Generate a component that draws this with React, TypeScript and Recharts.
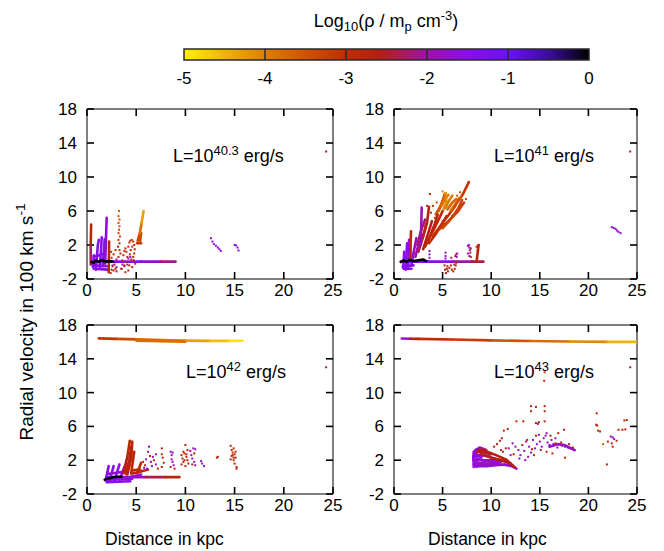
import React from 'react';
import { ScatterChart, Scatter, XAxis, YAxis, ComposedChart, ReferenceArea, ReferenceLine } from 'recharts';

type Pt = [number, number, number];
type Streak = { d: number; pts: [number, number][] };

const xTicks = [0, 5, 10, 15, 20, 25];
const yTicks = [-2, 2, 6, 10, 14, 18];
const cbTicks = [-5, -4, -3, -2, -1, 0];
const luminosityExps = ['40.3', '41', '42', '43'];

// ---------- Panel 1: L = 10^40.3 ----------
const tlStreaks: Streak[] = [
  { d: -1.3, pts: [[0.5, 0.05], [3, 0.05]] },
  { d: -1.5, pts: [[3, 0.05], [5.5, 0.05]] },
  { d: -1.8, pts: [[5.5, 0.05], [7.5, 0.05]] },
  { d: -2.1, pts: [[7.5, 0.05], [9.0, 0.05]] },
  { d: -1.5, pts: [[0.6, -0.4], [2.0, -0.5]] },
  { d: -1.5, pts: [[0.7, -0.8], [2.1, -0.9]] },
  { d: -1.5, pts: [[0.7, 0.6], [1.8, 1.0]] },
  { d: -1.4, pts: [[0.6, -0.6], [0.7, 0.8]] },
  { d: -1.4, pts: [[0.9, -0.9], [1.1, 2.0], [1.2, 2.6]] },
  { d: -1.5, pts: [[1.3, -0.8], [1.5, 2.9]] },
  { d: -1.5, pts: [[1.6, -0.5], [1.8, 2.7]] },
  { d: -1.6, pts: [[1.85, -0.2], [1.95, 3.5], [2.0, 5.2]] },
  { d: -2.3, pts: [[0.38, -0.3], [0.38, 2.0]] },
  { d: -2.8, pts: [[0.38, 2.0], [0.42, 4.4]] },
  { d: -2.8, pts: [[2.2, -1.2], [2.25, 2.4]] },
  { d: -3.1, pts: [[5.1, 2.2], [5.5, 2.2]] },
  { d: -3.3, pts: [[5.15, 2.5], [5.35, 3.3]] },
  { d: -3.4, pts: [[5.4, 2.4], [5.5, 3.4]] },
  { d: -3.8, pts: [[5.35, 3.3], [5.55, 4.6]] },
  { d: -4.3, pts: [[5.55, 4.6], [5.75, 6.0]] },
  { d: 0, pts: [[0.45, 0], [0.7, -0.1], [0.9, 0.2], [1.2, 0], [1.5, 0.25], [1.8, 0.05], [2.2, 0.1], [2.6, 0.05]] },
];
const tlDots: Pt[] = [
  [3.25, 6.0, -3.6], [3.2, 5.4, -3.5], [3.3, 5.0, -3.5], [3.2, 4.6, -3.4], [3.3, 4.2, -3.4], [3.25, 3.8, -3.3],
  [3.2, 3.4, -3.3], [3.35, 3.0, -3.2], [3.2, 2.6, -3.2], [3.3, 2.2, -3.0], [3.15, 1.8, -3.0], [3.3, 1.4, -2.9],
  [3.4, 1.0, -2.9], [3.2, 0.6, -2.8],
  [2.4, -1.3, -2.8], [2.5, -0.9, -2.7], [2.6, -0.5, -2.8], [2.7, -1.0, -2.8], [2.8, -0.3, -2.7], [2.9, -0.8, -2.8],
  [3.0, 0.3, -2.8], [2.5, 0.5, -2.9], [2.7, 0.9, -2.9], [2.9, 1.4, -3.0], [3.0, -1.1, -2.7], [2.45, 1.2, -2.9],
  [2.6, -0.4, -1.8], [3.0, -0.6, -1.7], [3.5, -0.8, -1.8], [3.8, -0.5, -1.7], [4.1, -0.3, -1.8], [3.6, -0.3, -1.9],
  [3.6, 0.2, -2.9], [3.7, 0.8, -2.9], [3.8, 1.3, -3.0], [3.9, 1.6, -3.0], [4.0, 1.2, -2.9], [4.1, 0.6, -2.8],
  [4.0, 0.0, -2.8], [3.8, -0.4, -2.8], [4.2, 1.8, -3.0], [4.3, 2.3, -3.1], [4.4, 2.5, -3.1], [4.55, 2.6, -3.1],
  [4.7, 2.4, -3.0], [4.8, 2.0, -3.0], [4.85, 1.5, -2.9], [4.8, 1.0, -2.9], [4.7, 0.6, -2.8], [4.5, 0.3, -2.8],
  [4.35, 0.9, -2.9], [4.45, 1.4, -3.0], [4.6, 1.8, -3.0], [4.75, 0.2, -2.8], [4.9, -0.2, -2.8], [3.5, -0.8, -2.8],
  [4.2, -1.0, -2.8], [4.6, -0.6, -2.8], [4.2, 0.4, -1.9], [4.4, 0.6, -2.0], [3.9, -1.2, -2.8], [4.3, -0.4, -2.9],
  [12.6, 2.8, -1.7], [12.75, 2.4, -1.6], [12.9, 2.1, -1.7], [13.1, 1.9, -1.6], [13.3, 1.7, -1.7], [13.45, 1.5, -1.6],
  [13.6, 1.3, -1.7], [15.0, 2.0, -1.7], [15.15, 1.95, -1.6], [15.3, 1.7, -1.7], [15.4, 1.35, -1.7],
  [24.3, 13.0, -2.6],
];

// ---------- Panel 2: L = 10^41 ----------
const trStreaks: Streak[] = [
  { d: -1.3, pts: [[0.7, 0.05], [3.5, 0.05]] },
  { d: -1.6, pts: [[3.5, 0.05], [6, 0.05]] },
  { d: -2.0, pts: [[6, 0.05], [8, 0.05]] },
  { d: -2.4, pts: [[8, 0.05], [9.2, 0.05]] },
  { d: -1.4, pts: [[0.95, -0.7], [1.05, 1.2]] },
  { d: -1.4, pts: [[1.2, -0.9], [1.35, 2.2]] },
  { d: -1.5, pts: [[1.45, -0.6], [1.55, 2.6]] },
  { d: -1.5, pts: [[0.9, -0.5], [2.0, -0.4]] },
  { d: -1.5, pts: [[1.0, -0.8], [1.8, -0.8]] },
  { d: -1.5, pts: [[1.8, -0.3], [2.0, 1.0]] },
  { d: -2.5, pts: [[1.7, 0.5], [1.7, 2.0]] },
  { d: -2.9, pts: [[1.7, 2.0], [1.75, 3.6]] },
  { d: -1.8, pts: [[2.2, 0.6], [2.5, 2.0], [2.8, 3.2]] },
  { d: -2.2, pts: [[2.4, 2.0], [2.8, 3.8], [3.2, 5.0]] },
  { d: -1.9, pts: [[2.0, 1.0], [2.3, 2.8]] },
  { d: -2.4, pts: [[2.5, 1.2], [3.0, 3.0], [3.3, 4.5]] },
  { d: -1.9, pts: [[2.75, 2.0], [2.85, 6.4]] },
  { d: -2.6, pts: [[3.0, 1.5], [3.5, 3.3], [3.9, 4.8]] },
  { d: -2.8, pts: [[3.2, 1.8], [3.7, 3.0], [4.2, 4.5], [4.5, 5.6]] },
  { d: -2.9, pts: [[3.4, 2.3], [4.0, 3.6], [4.6, 5.0], [5.0, 6.0]] },
  { d: -2.7, pts: [[3.0, 3.0], [3.4, 4.6], [3.6, 6.5]] },
  { d: -3.0, pts: [[4.0, 3.0], [4.8, 4.3], [5.6, 5.5], [6.3, 6.6]] },
  { d: -3.0, pts: [[3.6, 2.2], [4.3, 3.3], [5.0, 4.6], [5.4, 5.4]] },
  { d: -3.2, pts: [[4.6, 3.8], [5.6, 4.8], [6.6, 6.0], [7.2, 7.0]] },
  { d: -3.3, pts: [[5.0, 4.0], [5.8, 5.0], [6.6, 6.3], [7.0, 7.3]] },
  { d: -3.4, pts: [[4.3, 5.6], [4.8, 6.6], [5.2, 7.6]] },
  { d: -3.6, pts: [[4.6, 6.0], [5.0, 7.2], [5.2, 8.0]] },
  { d: -3.9, pts: [[4.9, 6.6], [5.3, 7.5], [5.6, 7.9]] },
  { d: -4.1, pts: [[5.1, 6.2], [5.4, 7.0], [5.3, 8.1]] },
  { d: -4.0, pts: [[5.3, 6.4], [5.7, 7.3], [6.0, 7.8]] },
  { d: -3.7, pts: [[5.5, 6.2], [6.0, 7.0], [6.4, 7.4]] },
  { d: -3.8, pts: [[5.8, 6.0], [6.3, 6.8], [6.7, 7.5]] },
  { d: -3.5, pts: [[6.2, 6.5], [6.8, 7.5], [7.1, 8.0]] },
  { d: -3.1, pts: [[7.1, 8.0], [7.7, 9.4]] },
  { d: -2.8, pts: [[8.5, 0.1], [8.6, 1.0], [8.7, 2.0]] },
  { d: 0, pts: [[0.7, 0], [1.0, 0.2], [1.3, 0], [1.6, 0.25], [2.0, 0.1], [2.5, 0.2], [3.0, 0.3], [3.3, 0.1]] },
];
const trDots: Pt[] = [
  [3.7, 8.0, -3.0], [3.4, 6.6, -2.9], [3.6, 6.4, -2.8], [4.0, 6.6, -3.0], [3.8, 5.8, -3.0], [4.2, 5.2, -3.1],
  [5.0, 8.3, -4.0], [5.3, 8.1, -4.2], [6.5, 7.8, -3.5], [6.8, 8.2, -3.4], [7.0, 7.8, -3.3], [7.3, 8.5, -3.1],
  [7.5, 8.9, -3.0], [7.7, 9.4, -3.0], [7.4, 7.4, -3.2], [6.0, 5.4, -3.3], [5.0, 4.8, -3.1], [4.4, 7.0, -3.6],
  [5.2, -0.4, -2.8], [5.25, -0.9, -2.8], [5.35, -1.3, -2.8], [5.55, -1.1, -2.8], [5.7, -0.7, -2.8], [5.85, -0.4, -2.8],
  [5.95, -0.9, -2.8], [6.1, -1.1, -2.8], [6.25, -0.8, -2.8], [6.35, -0.4, -2.8], [6.4, -0.1, -2.8], [5.5, -0.5, -2.8],
  [5.9, 0.5, -2.8], [6.3, 0.7, -2.8], [6.4, 0.9, -2.8], [5.45, -0.8, -2.9], [6.2, -0.3, -2.9],
  [5.3, 1.1, -1.8], [5.3, 0.7, -1.8], [5.3, 0.4, -1.7], [3.65, 0.5, -1.8], [3.65, 0.9, -1.7], [3.65, 1.3, -1.8],
  [6.45, 0.6, -1.9], [6.5, 1.0, -1.9],
  [7.6, 1.9, -1.8], [7.7, 2.0, -1.8], [7.75, 1.7, -1.9], [7.8, 1.4, -1.9], [7.6, 1.0, -1.8], [7.75, 0.7, -1.9],
  [7.9, 1.6, -2.8], [7.85, 1.1, -2.8], [7.9, 0.6, -2.8], [8.5, 1.8, -2.8], [8.7, 2.0, -2.7], [8.6, 1.4, -2.8],
  [22.4, 4.1, -1.7], [22.6, 4.0, -1.7], [22.8, 3.9, -1.7], [22.95, 3.7, -1.7], [23.1, 3.55, -1.7], [23.3, 3.4, -1.7],
  [24.3, 13.0, -2.6],
];

// ---------- Panel 3: L = 10^42 ----------
const blStreaks: Streak[] = [
  { d: -3.1, pts: [[1.2, 16.42], [3, 16.36]] },
  { d: -3.4, pts: [[3, 16.36], [5, 16.3]] },
  { d: -3.7, pts: [[5, 16.3], [7.5, 16.22]] },
  { d: -4.0, pts: [[7.5, 16.22], [10, 16.15]] },
  { d: -4.3, pts: [[10, 16.15], [12.5, 16.12]] },
  { d: -4.6, pts: [[12.5, 16.12], [14.5, 16.12]] },
  { d: -4.9, pts: [[14.5, 16.12], [15.8, 16.14]] },
  { d: -3.8, pts: [[5, 16.15], [10, 16.02]] },
  { d: -1.5, pts: [[2.0, 0], [4, 0]] },
  { d: -1.9, pts: [[4, 0], [6, 0]] },
  { d: -2.4, pts: [[6, 0], [8, 0]] },
  { d: -2.8, pts: [[8, 0], [9.4, 0]] },
  { d: -1.5, pts: [[2.0, -0.6], [4.4, -0.5]] },
  { d: -1.5, pts: [[2.1, -0.3], [4.6, -0.2]] },
  { d: -1.4, pts: [[1.9, -0.4], [2.2, 1.3]] },
  { d: -1.5, pts: [[2.3, -0.5], [2.7, 1.3]] },
  { d: -1.5, pts: [[2.8, -0.4], [3.3, 1.5]] },
  { d: -1.6, pts: [[3.3, -0.4], [3.8, 1.2]] },
  { d: -1.7, pts: [[3.6, -0.2], [5.5, 0.3]] },
  { d: -1.6, pts: [[2.2, 0.4], [3.6, 0.6]] },
  { d: -2.6, pts: [[3.7, 0.5], [4.1, 2.4]] },
  { d: -2.9, pts: [[4.1, 2.4], [4.35, 4.3]] },
  { d: -2.8, pts: [[4.1, 0.3], [4.5, 2.2], [4.6, 4.2]] },
  { d: -2.7, pts: [[3.9, 0.4], [4.3, 2.0], [4.5, 3.6]] },
  { d: -2.9, pts: [[4.5, 0.5], [4.8, 3.0]] },
  { d: -2.8, pts: [[4.5, 0.4], [5.3, 0.6], [6.2, 0.9]] },
  { d: -2.8, pts: [[4.6, 0.8], [5.4, 0.9]] },
  { d: -2.9, pts: [[5.1, 0.5], [5.5, 1.7]] },
  { d: 0, pts: [[1.8, -0.3], [2.2, -0.15], [2.6, -0.05], [3.0, 0.05], [3.5, 0.05]] },
];
const blDots: Pt[] = [
  [6.3, 3.6, -1.8], [6.2, 3.0, -1.9], [6.4, 2.5, -2.8], [6.0, 2.1, -1.8], [6.5, 1.8, -1.9], [5.9, 1.4, -2.8],
  [6.6, 1.3, -1.8], [6.8, 2.0, -2.8], [7.0, 2.7, -1.9], [7.0, 1.5, -1.8], [7.2, 1.0, -2.7], [6.1, 1.0, -1.8],
  [5.7, 1.8, -2.8], [5.8, 1.1, -1.8], [6.7, 2.4, -1.8],
  [7.6, 3.4, -2.8], [7.6, 2.7, -2.9], [7.7, 2.3, -2.8], [7.8, 1.7, -2.8], [7.6, 1.2, -2.8],
  [8.5, 3.0, -1.8], [8.6, 2.6, -1.9], [8.6, 2.1, -1.8], [8.7, 1.8, -1.9], [8.8, 1.4, -1.8], [8.5, 1.2, -2.7],
  [8.7, 2.9, -1.9], [8.9, 1.0, -2.8],
  [9.6, 2.6, -2.9], [9.7, 2.2, -2.8], [9.8, 3.0, -2.8], [9.9, 2.8, -3.0], [10.0, 3.8, -2.9], [10.1, 2.4, -2.8],
  [10.2, 2.0, -2.9], [10.3, 1.6, -2.8], [9.8, 1.8, -2.8], [9.6, 1.5, -2.7], [10.0, 1.3, -2.8], [10.2, 3.2, -2.9],
  [9.9, 2.0, -3.0], [10.1, 2.7, -2.9],
  [10.5, 3.1, -1.8], [10.6, 2.6, -1.8], [10.7, 2.2, -1.9], [10.8, 3.4, -1.8], [10.9, 1.8, -1.8], [11.0, 1.4, -1.9],
  [10.7, 1.5, -2.8], [10.9, 2.8, -2.8], [11.0, 3.3, -1.8],
  [11.6, 1.9, -1.8], [11.7, 1.6, -1.9], [11.9, 1.3, -1.8],
  [13.2, 2.3, -2.8], [13.3, 2.4, -2.8],
  [14.6, 3.7, -2.9], [14.7, 3.2, -2.8], [14.8, 2.9, -3.0], [14.9, 3.4, -2.9], [15.0, 2.7, -2.8], [14.7, 2.5, -2.9],
  [15.1, 2.3, -2.8], [14.9, 2.0, -3.0], [15.0, 1.6, -2.8], [15.2, 1.2, -2.9], [15.2, 1.0, -2.8], [14.6, 2.1, -2.9],
  [14.8, 2.6, -3.0], [15.1, 3.0, -2.9], [14.9, 2.3, -2.8],
  [24.3, 13.0, -2.6],
];

// ---------- Panel 4: L = 10^43 ----------
const brStreaks: Streak[] = [
  { d: -1.8, pts: [[0.8, 16.4], [1.7, 16.38]] },
  { d: -2.6, pts: [[1.7, 16.38], [2.5, 16.36]] },
  { d: -3.0, pts: [[2.5, 16.36], [6, 16.28]] },
  { d: -3.2, pts: [[6, 16.28], [10, 16.18]] },
  { d: -3.5, pts: [[10, 16.18], [14, 16.1]] },
  { d: -3.8, pts: [[14, 16.1], [18, 16.05]] },
  { d: -4.1, pts: [[18, 16.05], [22, 16.0]] },
  { d: -4.5, pts: [[22, 16.0], [25, 16.0]] },
  { d: -1.7, pts: [[8.2, 1.2], [8.2, 3.0]] },
  { d: -1.6, pts: [[8.5, 1.2], [8.5, 3.3]] },
  { d: -1.6, pts: [[8.3, 1.4], [8.15, 2.3], [8.3, 3.1], [8.8, 3.5], [9.3, 3.3]] },
  { d: -1.7, pts: [[8.4, 1.3], [9.5, 1.3], [10.5, 1.4], [11.4, 1.5], [12.1, 1.3], [12.6, 1.0]] },
  { d: -1.7, pts: [[8.2, 1.5], [9.5, 1.5], [10.8, 1.5], [11.8, 1.4]] },
  { d: -1.7, pts: [[8.2, 2.0], [9.5, 2.0], [10.6, 2.0]] },
  { d: -1.7, pts: [[8.5, 2.2], [9.3, 1.9], [10.2, 1.8], [11.0, 1.8]] },
  { d: -1.8, pts: [[8.5, 1.7], [9.5, 1.6], [10.8, 1.6]] },
  { d: -1.6, pts: [[8.2, 2.5], [9.0, 2.6], [9.8, 2.5]] },
  { d: -1.6, pts: [[8.4, 2.7], [9.0, 2.3]] },
  { d: -2.5, pts: [[8.5, 3.0], [9.3, 2.9], [10.0, 2.7]] },
  { d: -2.4, pts: [[9.0, 3.3], [9.5, 3.2]] },
  { d: -2.6, pts: [[8.7, 3.2], [9.6, 3.0], [10.5, 2.6], [11.5, 2.1], [12.4, 1.2]] },
  { d: -2.5, pts: [[8.9, 2.7], [9.7, 2.4], [10.6, 2.1], [11.8, 1.8]] },
  { d: -2.6, pts: [[10.0, 2.3], [11.0, 2.0], [12.0, 1.6]] },
  { d: -1.8, pts: [[16.0, 3.6], [16.8, 3.9], [17.5, 3.8], [18.6, 3.2]] },
];
const brDots: Pt[] = [
  [10.3, 3.6, -2.7], [10.6, 3.9, -2.8], [10.9, 4.3, -2.7], [11.1, 4.6, -2.8], [11.3, 5.5, -2.9], [11.7, 5.7, -2.8],
  [11.0, 3.2, -2.7], [11.5, 3.4, -2.8], [11.2, 3.0, -2.6],
  [12.6, 6.6, -2.8], [13.3, 6.6, -2.9], [14.1, 8.4, -2.9], [14.6, 8.3, -2.8], [14.1, 7.8, -2.8], [15.5, 8.4, -2.9],
  [15.5, 7.8, -2.8], [14.6, 6.4, -2.8], [14.8, 6.3, -1.8], [14.9, 6.5, -2.8], [15.5, 6.6, -2.8], [15.5, 12.4, -3.3],
  [15.45, 11.4, -3.0],
  [11.8, 3.4, -1.8], [12.2, 4.0, -1.8], [12.5, 3.6, -1.8], [12.8, 3.2, -1.7], [13.0, 2.6, -1.8], [13.4, 3.1, -1.8],
  [13.6, 4.2, -1.7], [13.9, 3.6, -1.8], [14.1, 2.9, -1.7], [14.3, 4.4, -1.8], [14.5, 3.4, -1.8], [14.7, 3.9, -1.7],
  [14.9, 5.0, -1.8], [15.0, 4.2, -1.8], [15.2, 3.6, -1.7], [15.4, 4.6, -1.8], [15.6, 4.9, -1.8], [15.7, 5.2, -1.7],
  [15.8, 4.1, -1.8], [16.0, 3.8, -1.8], [16.2, 4.4, -1.7], [16.4, 3.9, -1.8], [16.6, 4.6, -1.8], [16.8, 3.5, -1.7],
  [17.0, 3.9, -1.8], [17.3, 3.7, -1.7], [17.6, 3.6, -1.8], [17.9, 3.5, -1.8], [18.2, 3.4, -1.7], [18.5, 3.2, -1.8],
  [13.8, 2.4, -1.8], [12.9, 2.2, -1.7], [12.0, 2.6, -1.8], [13.5, 2.0, -1.8],
  [13.2, 3.8, -2.8], [13.7, 4.4, -2.8], [14.2, 3.3, -2.7], [14.6, 4.9, -2.8], [15.1, 3.2, -2.8], [15.7, 3.0, -2.8],
  [16.1, 4.9, -2.7], [16.6, 4.0, -2.8], [16.9, 5.2, -2.8], [17.2, 4.1, -2.8], [17.6, 2.3, -2.9], [17.5, 5.6, -2.8],
  [18.0, 3.9, -2.7], [18.4, 3.5, -2.8], [12.3, 2.7, -2.7], [14.4, 2.6, -2.8], [16.3, 2.8, -2.8],
  [20.85, 7.55, -2.8], [20.8, 6.2, -2.8], [20.9, 6.1, -2.7], [21.0, 5.5, -2.8], [21.2, 5.4, -2.8], [22.3, 4.8, -1.8],
  [22.5, 4.7, -1.8], [22.65, 4.5, -1.8], [22.0, 4.2, -2.8], [22.4, 4.0, -2.8], [22.5, 3.6, -2.8], [21.5, 3.9, -3.8],
  [21.9, 1.5, -2.8], [23.1, 5.6, -2.8], [23.5, 5.6, -2.8], [23.8, 5.65, -2.8], [23.7, 6.7, -2.8], [23.95, 6.75, -2.8],
  [22.9, 4.3, -2.9],
  [24.3, 13.0, -2.6],
];

// ---------- colour map (style) ----------
const cmapVals = [-5, -4.5, -4, -3.5, -3, -2.6, -2.3, -2, -1.5, -1, -0.5, 0];
const cmapCols = ['#fff200', '#f0b400', '#e07e00', '#d25200', '#c02c00', '#b61e10', '#ae1a5a', '#a010aa', '#8c0cf0', '#6c10ff', '#3c0ca0', '#000000'];

function hexToRgb(h: string): number[] {
  return [parseInt(h.slice(1, 3), 16), parseInt(h.slice(3, 5), 16), parseInt(h.slice(5, 7), 16)];
}
function densityColor(d: number): string {
  if (d <= cmapVals[0]) return cmapCols[0];
  for (let i = 1; i < cmapVals.length; i++) {
    if (d <= cmapVals[i]) {
      const t = (d - cmapVals[i - 1]) / (cmapVals[i] - cmapVals[i - 1]);
      const a = hexToRgb(cmapCols[i - 1]);
      const b = hexToRgb(cmapCols[i]);
      const c = a.map((v, k) => Math.round(v + (b[k] - v) * t));
      return `rgb(${c[0]},${c[1]},${c[2]})`;
    }
  }
  return cmapCols[cmapCols.length - 1];
}

const FONT = "'Liberation Sans', Arial, Helvetica, sans-serif";
const TICK_LEN = 7;
const TICK_W = 1.6;
const TICK_FONT = 17;

const DotShape = (props: any) => {
  const { cx, cy, payload } = props;
  if (cx == null || cy == null) return <g />;
  return <rect x={cx - 1} y={cy - 1} width={2} height={2} fill={densityColor(payload.d)} />;
};
const NoShape = () => <g />;

function Panel(props: { left: number; top: number; width: number; height: number; dots: Pt[]; streaks: Streak[] }) {
  const { left, top, width, height, dots, streaks } = props;
  const dotData = dots.map(([x, y, d]) => ({ x, y, d }));
  const plotW = width - 45 - 11;
  const plotH = height - 11 - 30;
  const x0 = xTicks[0];
  const x1 = xTicks[xTicks.length - 1];
  const y0 = yTicks[0];
  const y1 = yTicks[yTicks.length - 1];
  // pixel sizes of tick marks converted to data units
  const ux = (x1 - x0) / plotW;
  const uy = (y1 - y0) / plotH;
  const lx = TICK_LEN * ux;
  const ly = TICK_LEN * uy;
  const hx = (TICK_W / 2) * ux;
  const hy = (TICK_W / 2) * uy;
  return (
    <div style={{ position: 'absolute', left, top }}>
      <ScatterChart width={width} height={height} margin={{ top: 11, right: 11, bottom: 0, left: 0 }}>
        <XAxis type="number" dataKey="x" domain={[x0, x1]} ticks={xTicks} interval={0} allowDataOverflow height={30}
          tickLine={false} tickSize={0} tickMargin={5} stroke="#000" tick={{ fill: '#000', fontSize: TICK_FONT }} />
        <YAxis type="number" dataKey="y" domain={[y0, y1]} ticks={yTicks} interval={0} allowDataOverflow width={45}
          tickLine={false} tickSize={0} tickMargin={10} stroke="#000" tick={{ fill: '#000', fontSize: TICK_FONT }} />
        <ReferenceLine y={y1} stroke="#000" strokeWidth={1} />
        <ReferenceLine x={x1} stroke="#000" strokeWidth={1} />
        {xTicks.map((t) => (
          <ReferenceArea key={'xb' + t} x1={t - hx} x2={t + hx} y1={y0} y2={y0 + ly} fill="#000" fillOpacity={1}
            stroke="none" ifOverflow="visible" />
        ))}
        {xTicks.map((t) => (
          <ReferenceArea key={'xt' + t} x1={t - hx} x2={t + hx} y1={y1 - ly} y2={y1} fill="#000" fillOpacity={1}
            stroke="none" ifOverflow="visible" />
        ))}
        {yTicks.map((t) => (
          <ReferenceArea key={'yl' + t} x1={x0} x2={x0 + lx} y1={t - hy} y2={t + hy} fill="#000" fillOpacity={1}
            stroke="none" ifOverflow="visible" />
        ))}
        {yTicks.map((t) => (
          <ReferenceArea key={'yr' + t} x1={x1 - lx} x2={x1} y1={t - hy} y2={t + hy} fill="#000" fillOpacity={1}
            stroke="none" ifOverflow="visible" />
        ))}
        {streaks.map((s, i) => (
          <Scatter key={'s' + i} data={s.pts.map(([x, y]) => ({ x, y }))} fill={densityColor(s.d)}
            line={{ stroke: densityColor(s.d), strokeWidth: 2.6, strokeLinecap: 'round', strokeLinejoin: 'round' } as any}
            lineType="joint" shape={NoShape} isAnimationActive={false} />
        ))}
        <Scatter data={dotData} shape={DotShape} isAnimationActive={false} />
      </ScatterChart>
    </div>
  );
}

const supStyle: React.CSSProperties = { fontSize: '0.72em', verticalAlign: '0.55em', lineHeight: 0 };
const subStyle: React.CSSProperties = { fontSize: '0.72em', verticalAlign: '-0.3em', lineHeight: 0 };

function LumLabel({ left, top, exp }: { left: number; top: number; exp: string }) {
  return (
    <div style={{ position: 'absolute', left, top, fontSize: 18, lineHeight: 1, whiteSpace: 'nowrap' }}>
      L=10<span style={supStyle}>{exp}</span> erg/s
    </div>
  );
}

export default function App() {
  const cbData = cbTicks.map((x) => ({ x }));
  return (
    <div style={{ position: 'absolute', left: 0, top: 0, width: 664, height: 551, background: '#fff', fontFamily: FONT, color: '#000', overflow: 'hidden' }}>
      <div style={{ position: 'absolute', left: 386, top: 12, transform: 'translateX(-50%)', fontSize: 18, lineHeight: 1, whiteSpace: 'nowrap' }}>
        Log<span style={subStyle}>10</span>(ρ / m<span style={subStyle}>p</span> cm<span style={supStyle}>-3</span>)
      </div>
      <div style={{ position: 'absolute', left: 164, top: 48 }}>
        <ComposedChart width={445} height={42} data={cbData} margin={{ top: 1, right: 20, bottom: 0, left: 20 }}>
          <defs>
            <linearGradient id="cbGrad" x1="0" y1="0" x2="1" y2="0">
              {cmapVals.map((v, i) => (
                <stop key={i} offset={`${((v + 5) / 5) * 100}%`} stopColor={cmapCols[i]} />
              ))}
            </linearGradient>
          </defs>
          <XAxis type="number" dataKey="x" domain={[-5, 0]} ticks={cbTicks} interval={0} allowDataOverflow height={30}
            tickLine={false} axisLine={false} tickSize={0} tickMargin={12} tick={{ fill: '#000', fontSize: TICK_FONT }} />
          <YAxis hide type="number" domain={[0, 1]} allowDataOverflow />
          <ReferenceArea x1={-5} x2={0} y1={0} y2={1} fill="url(#cbGrad)" fillOpacity={1} stroke="#2a2a2a" strokeWidth={1.5} />
          {cbTicks.slice(1, -1).map((v) => (
            <ReferenceLine key={v} x={v} stroke="#2a2a2a" strokeWidth={1.5} />
          ))}
        </ComposedChart>
      </div>

      <Panel left={42} top={98} width={302} height={211} dots={tlDots} streaks={tlStreaks} />
      <Panel left={349} top={98} width={299} height={211} dots={trDots} streaks={trStreaks} />
      <Panel left={42} top={314} width={302} height={210} dots={blDots} streaks={blStreaks} />
      <Panel left={349} top={314} width={299} height={210} dots={brDots} streaks={brStreaks} />

      <LumLabel left={173} top={147} exp={luminosityExps[0]} />
      <LumLabel left={494} top={147} exp={luminosityExps[1]} />
      <LumLabel left={186} top={363} exp={luminosityExps[2]} />
      <LumLabel left={494} top={363} exp={luminosityExps[3]} />

      <div style={{ position: 'absolute', left: 26, top: 322, transform: 'translate(-50%, -50%) rotate(-90deg)', fontSize: 19, lineHeight: 1, whiteSpace: 'nowrap' }}>
        Radial velocity in 100 km s<span style={supStyle}>-1</span>
      </div>
      <div style={{ position: 'absolute', left: 105, top: 531, fontSize: 17.5, lineHeight: 1, whiteSpace: 'nowrap' }}>Distance in kpc</div>
      <div style={{ position: 'absolute', left: 428, top: 531, fontSize: 17.5, lineHeight: 1, whiteSpace: 'nowrap' }}>Distance in kpc</div>
    </div>
  );
}
